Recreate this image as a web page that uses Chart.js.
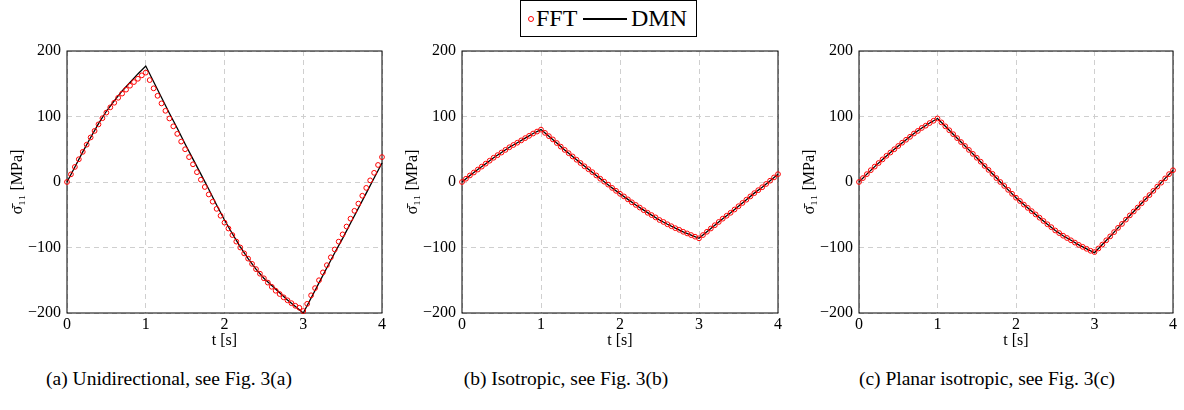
<!DOCTYPE html>
<html lang="en">
<head>
<meta charset="UTF-8" />
<title>Stress response: FFT vs DMN</title>
<script src="https://cdn.jsdelivr.net/npm/chart.js"></script>
<style>
    body {
        margin: 0;
        width: 1184px;
        height: 410px;
        background: #fff;
        position: relative;
        overflow: hidden;
        font-family: "Liberation Serif", "DejaVu Serif", serif;
        color: #000;
    }
    canvas {
        position: absolute;
        top: 0;
    }
    .caption {
        position: absolute;
        top: 368px;
        font-size: 19.5px;
        white-space: nowrap;
        transform: translateX(-50%);
    }
    .legend {
        position: absolute;
        left: 520px;
        top: 0;
        width: 177px;
        height: 37px;
        box-sizing: border-box;
        border: 1px solid #000;
        font-size: 24px;
    }
    .legend span {
        position: absolute;
    }
    .legend .mark {
        left: 7px;
        top: 15px;
        width: 4px;
        height: 4px;
        border: 1px solid #f00;
        border-radius: 50%;
    }
    .legend .txt {
        top: 3px;
        line-height: 28px;
    }
    .legend .line {
        left: 62px;
        top: 17px;
        width: 44px;
        border-top: 2px solid #000;
    }
</style>
</head>
<body>
    <div class="legend">
        <span class="mark"></span><span class="txt" style="left:15px">FFT</span><span class="line"></span><span class="txt" style="left:110px">DMN</span>
    </div>

    <canvas id="chartA"></canvas>
    <canvas id="chartB"></canvas>
    <canvas id="chartC"></canvas>

    <div class="caption" style="left:169px">(a) Unidirectional, see Fig. 3(a)</div>
    <div class="caption" style="left:566px">(b) Isotropic, see Fig. 3(b)</div>
    <div class="caption" style="left:987px">(c) Planar isotropic, see Fig. 3(c)</div>

<script>
    // time grids [s]
    const tFFT = [0, 0.05, 0.1, 0.15, 0.2, 0.25, 0.3, 0.35, 0.4, 0.45, 0.5, 0.55, 0.6, 0.65, 0.7, 0.75, 0.8, 0.85, 0.9, 0.95,
        1, 1.05, 1.1, 1.15, 1.2, 1.25, 1.3, 1.35, 1.4, 1.45, 1.5, 1.55, 1.6, 1.65, 1.7, 1.75, 1.8, 1.85, 1.9, 1.95,
        2, 2.05, 2.1, 2.15, 2.2, 2.25, 2.3, 2.35, 2.4, 2.45, 2.5, 2.55, 2.6, 2.65, 2.7, 2.75, 2.8, 2.85, 2.9, 2.95,
        3, 3.05, 3.1, 3.15, 3.2, 3.25, 3.3, 3.35, 3.4, 3.45, 3.5, 3.55, 3.6, 3.65, 3.7, 3.75, 3.8, 3.85, 3.9, 3.95, 4];
    const tDMN = [0, 0.1, 0.2, 0.3, 0.4, 0.5, 0.6, 0.7, 0.8, 0.9, 1, 1.1, 1.2, 1.3, 1.4, 1.5, 1.6, 1.7, 1.8, 1.9,
        2, 2.1, 2.2, 2.3, 2.4, 2.5, 2.6, 2.7, 2.8, 2.9, 3, 3.1, 3.2, 3.3, 3.4, 3.5, 3.6, 3.7, 3.8, 3.9, 4];

    // (a) unidirectional, sigma_11 [MPa]
    const fftUni = [0, 11.7, 23, 34.7, 46, 57, 68, 78, 88, 97.4, 106, 114, 121, 128.6, 135, 141, 147, 152.6, 157.6, 162.8,
        167, 155.6, 143, 131.6, 120, 108.7, 97, 85, 73.5, 61.7, 50, 38, 27, 15, 3.5, -7.6, -19, -30, -41, -51.5,
        -62, -71, -81, -91, -100, -109, -117, -125, -133, -140, -147, -153.6, -160, -166, -171, -176, -180.6, -185, -189, -192,
        -197, -186, -173, -162, -150, -138, -127, -115, -103, -91, -80, -68, -56, -44, -33, -21, -9, 2.5, 14, 26, 38];
    const dmnUni = [0, 23, 46, 68, 89, 108, 124, 139, 152, 165, 177, 153, 129, 105, 82, 58, 35, 12, -11, -35,
        -58, -79, -99, -117, -133, -147, -158, -169, -180, -190, -200, -177, -154, -131, -108, -86, -63, -40, -17, 6, 29];

    // (b) isotropic
    const fftIso = [0, 5, 10, 14.5, 19, 23.5, 28, 32.5, 37, 41, 45, 49, 53, 56.5, 60, 63.5, 67, 70.5, 74, 77,
        80, 75, 70, 65, 59.5, 54, 49, 44, 39, 34, 29, 24, 19.5, 15, 10, 5, 0.5, -4, -9, -13.5,
        -18, -22, -26.5, -31, -35, -39, -43, -47, -50.5, -54, -58, -61, -64.5, -67.5, -70.5, -73, -76, -78.5, -81, -83.5,
        -86, -81, -76, -71, -66, -61, -56, -51.5, -47, -42, -37, -32, -27, -22, -17, -12.5, -8, -3, 2, 7, 12];
    const dmnIso = [0, 10, 19, 28, 37, 45, 53, 60, 67, 74, 80, 70, 59.5, 49, 39, 29, 19.5, 10, 0.5, -9,
        -18, -26.5, -35, -43, -50.5, -58, -64.5, -70.5, -76, -81, -86, -76, -66, -56, -47, -37, -27, -17, -8, 2, 12];

    // (c) planar isotropic
    const fftPlanar = [0, 6, 12, 18, 23.5, 29, 34.5, 40, 45, 50, 55, 60, 64.5, 69, 74, 78, 82.5, 86, 90, 93.5,
        97, 91, 85, 79, 73, 67, 61, 55, 49, 43, 37, 31, 24.5, 18.5, 12.5, 6, 0, -6, -12, -18,
        -24, -29, -34.5, -39.5, -44.5, -49.5, -54.5, -59.5, -64.5, -69, -74, -78, -82, -85.5, -89, -92.5, -96, -99, -102, -105,
        -107, -101.5, -95.5, -89, -83, -76.5, -70, -64, -57.5, -51, -45, -39, -32.5, -26, -20, -13.5, -7, -1, 5.5, 12, 18];
    const dmnPlanar = [0, 12, 23.5, 34.5, 45, 55, 64.5, 74, 82.5, 90, 97, 85, 73, 61, 49, 37, 24.5, 12.5, 0, -12,
        -24, -34.5, -44.5, -54.5, -64.5, -74, -82, -89, -96, -102, -108, -95.5, -83, -70, -57.5, -45, -32.5, -20, -7, 5.5, 18];

    const yTicks = [-200, -100, 0, 100, 200];
    const xTicks = [0, 1, 2, 3, 4];

    // layout of the three plot boxes (page px)
    const PLOT_TOP = 51, PLOT_BOTTOM = 313, CANVAS_H = 350, YAXIS_W = 66, PAD_R = 8;
    const panels = [
        { id: 'chartA', left: 67, right: 382, fft: fftUni, dmn: dmnUni },
        { id: 'chartB', left: 462, right: 778, fft: fftIso, dmn: dmnIso },
        { id: 'chartC', left: 859, right: 1173, fft: fftPlanar, dmn: dmnPlanar },
    ];

    const FONT = 'Liberation Serif';

    const frame = {
        id: 'frame',
        beforeDatasetsDraw(chart) {
            const { ctx, chartArea: a } = chart;
            ctx.save();
            ctx.strokeStyle = '#000';
            ctx.lineWidth = 1;
            ctx.strokeRect(a.left, a.top, a.right - a.left, a.bottom - a.top);
            ctx.restore();
        }
    };

    function toXY(xs, ys) {
        return xs.map((x, i) => ({ x: x, y: ys[i] }));
    }

    function makeChart(p) {
        const cv = document.getElementById(p.id);
        cv.width = (p.right - p.left) + YAXIS_W + PAD_R;
        cv.height = CANVAS_H;
        cv.style.left = (p.left - YAXIS_W) + 'px';

        return new Chart(cv, {
            type: 'scatter',
            data: {
                datasets: [
                    {
                        label: 'FFT',
                        data: toXY(tFFT, p.fft),
                        pointStyle: 'circle',
                        pointRadius: 2.4,
                        pointBorderWidth: 1,
                        pointBorderColor: '#ff0000',
                        pointBackgroundColor: 'rgba(0,0,0,0)',
                        showLine: false,
                        clip: false,
                    },
                    {
                        label: 'DMN',
                        data: toXY(tDMN, p.dmn),
                        showLine: true,
                        borderColor: '#000',
                        borderWidth: 1.3,
                        pointRadius: 0,
                        tension: 0,
                        clip: false,
                    }
                ]
            },
            options: {
                responsive: false,
                animation: false,
                layout: { padding: { top: PLOT_TOP, right: PAD_R, left: 0, bottom: 0 } },
                plugins: { legend: { display: false }, tooltip: { enabled: false } },
                scales: {
                    x: {
                        type: 'linear',
                        min: 0,
                        max: 4,
                        afterBuildTicks: s => { s.ticks = xTicks.map(v => ({ value: v })); },
                        afterFit: s => { s.height = CANVAS_H - PLOT_BOTTOM; },
                        ticks: { color: '#000', font: { family: FONT, size: 16 }, padding: 2 },
                        grid: { color: '#cfcfcf', drawTicks: false },
                        border: { display: false, dash: [5, 4] },
                        title: {
                            display: true,
                            text: 't [s]',
                            color: '#000',
                            font: { family: FONT, size: 16 },
                            padding: { top: 0, bottom: 0 }
                        }
                    },
                    y: {
                        type: 'linear',
                        min: -200,
                        max: 200,
                        afterBuildTicks: s => { s.ticks = yTicks.map(v => ({ value: v })); },
                        afterFit: s => { s.width = YAXIS_W; },
                        ticks: {
                            color: '#000',
                            font: { family: FONT, size: 16 },
                            padding: 6,
                            callback: v => (v < 0 ? '\u2212' + Math.abs(v) : String(v))
                        },
                        grid: { color: '#cfcfcf', drawTicks: false },
                        border: { display: false, dash: [5, 4] },
                        title: {
                            display: true,
                            text: 'σ\u0304\u2081\u2081 [MPa]',
                            color: '#000',
                            font: { family: FONT, size: 16 },
                            padding: { top: 7, bottom: 0 }
                        }
                    }
                }
            },
            plugins: [frame]
        });
    }

    panels.forEach(makeChart);
</script>
</body>
</html>
